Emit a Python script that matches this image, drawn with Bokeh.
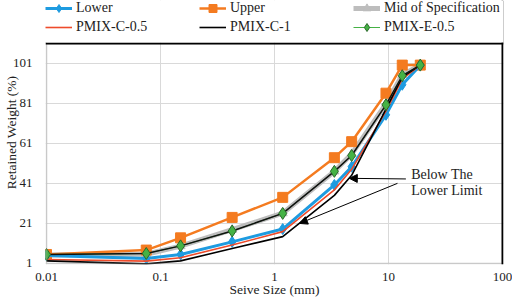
from bokeh.plotting import figure
from bokeh.models import (FixedTicker, CustomJSTickFormatter, Range1d, Legend, LegendItem,
                          Label, Arrow, NormalHead, BoxAnnotation, Span)
from bokeh.embed import file_html
from bokeh.resources import INLINE

# ---- data ----
sizes = [0.01, 0.075, 0.15, 0.425, 1.18, 3.35, 4.75, 9.5, 13.2, 19]
lower = [5.0, 3.5, 5.5, 11.8, 18.2, 40.2, 49.3, 75.2, 90.2, 100]
upper = [5.5, 7.7, 13.8, 24.0, 34.0, 53.8, 61.8, 86.0, 100, 100]
mid_spec = [5.3, 5.6, 9.7, 17.9, 26.1, 47.0, 55.6, 80.6, 95.1, 100]
pmix_c05 = [3.0, 2.2, 3.9, 10.2, 16.9, 37.7, 48.0, 77.0, 93.0, 100]
pmix_c1 = [2.3, 0.8, 2.3, 8.5, 14.4, 35.0, 45.0, 78.0, 94.0, 100]
pmix_e05 = [5.5, 6.0, 9.8, 17.2, 26.0, 47.0, 54.9, 80.2, 94.7, 100]

y_ticks = [1, 21, 41, 61, 81, 101]
x_ticks = [0.01, 0.1, 1, 10, 100]

X_MIN, X_MAX = 0.01, 100
Y_MIN = 1
Y_AREA_TOP = 110.75    # top of the plotting area (value)
Y_CANVAS_TOP = 132.25  # frame extends to the top of the canvas to host the legend

FONT = "Liberation Serif"
TXT = "#222222"

p = figure(width=512, height=301, x_axis_type="log", output_backend="svg",
           toolbar_location=None, x_range=Range1d(0.0098, 102),
           y_range=Range1d(0.5, Y_CANVAS_TOP),
           min_border_left=45, min_border_right=9, min_border_top=0, min_border_bottom=37)
p.title.visible = False
p.background_fill_color = "white"
p.border_fill_color = "white"
p.outline_line_color = None

# grid
p.xgrid.ticker = FixedTicker(ticks=x_ticks)
p.ygrid.ticker = FixedTicker(ticks=y_ticks)
for g in (p.xgrid, p.ygrid):
    g.grid_line_color = "#D9D9D9"
    g.grid_line_width = 1
p.xgrid.minor_grid_line_color = None

# axes
p.xaxis.ticker = FixedTicker(ticks=x_ticks)
p.xaxis.formatter = CustomJSTickFormatter(code="return tick.toString();")
p.yaxis.ticker = FixedTicker(ticks=y_ticks)
for ax in (p.xaxis, p.yaxis):
    ax.axis_line_color = None
    ax.major_tick_line_color = None
    ax.minor_tick_line_color = None
    ax.major_tick_out = 0
    ax.major_tick_in = 0
    ax.minor_tick_out = 0
    ax.minor_tick_in = 0
    ax.major_label_text_font = FONT
    ax.major_label_text_font_size = "13px"
    ax.major_label_text_color = TXT
    ax.axis_label_text_font = FONT
    ax.axis_label_text_font_size = "13.5px"
    ax.axis_label_text_font_style = "normal"
    ax.axis_label_text_color = TXT
p.xaxis.axis_label = "Seive Size (mm)"
p.yaxis.axis_label = "Retained Weight (%)"
p.xaxis.major_label_standoff = 8
p.xaxis.axis_label_standoff = -2
p.yaxis.major_label_standoff = 13
p.yaxis.axis_label_standoff = -9

BLUE = "#1E9BE0"
ORANGE = "#F47B20"
GRAY = "#BDBDBD"
RED = "#EE4B2B"
GREEN = "#45B245"

# series
r_mid_l = p.line(sizes, mid_spec, line_color=GRAY, line_width=5)
r_mid_m = p.scatter(sizes, mid_spec, marker="triangle", size=9, fill_color=GRAY, line_color=GRAY)
r_up_l = p.line(sizes, upper, line_color=ORANGE, line_width=2.5)
r_up_m = p.scatter(sizes, upper, marker="square", size=10, fill_color=ORANGE, line_color=ORANGE)
r_lo_l = p.line(sizes, lower, line_color=BLUE, line_width=3)
r_lo_m = p.scatter(sizes, lower, marker="diamond", size=11, fill_color=BLUE, line_color=BLUE)
r_c05 = p.line(sizes, pmix_c05, line_color=RED, line_width=1.6)
r_c1 = p.line(sizes, pmix_c1, line_color="black", line_width=1.6)
r_e_l = p.line(sizes, pmix_e05, line_color=GREEN, line_width=1)
p.line(sizes, pmix_e05, line_color="#111111", line_width=1.5)
r_e_m = p.scatter(sizes, pmix_e05, marker="diamond", size=12, fill_color=GREEN,
                  line_color="#2A6A2A", line_width=1)

# plot-area border: gray left/bottom, black top/right
p.add_layout(BoxAnnotation(left=X_MIN, right=X_MAX, bottom=Y_MIN, top=Y_AREA_TOP,
                           fill_alpha=0, line_color="#A6A6A6", line_width=2))
p.add_layout(Span(location=Y_AREA_TOP, dimension="width", line_color="black", line_width=2))
p.add_layout(Span(location=X_MAX, dimension="height", line_color="black", line_width=2))
# white cover for the legend strip above the plotting area
p.add_layout(BoxAnnotation(bottom=Y_AREA_TOP + 0.5, fill_color="white", fill_alpha=1,
                           line_color=None))


def make_legend(items, loc):
    lg = Legend(items=items, orientation="horizontal", location=loc)
    lg.background_fill_alpha = 0
    lg.border_line_color = None
    lg.padding = 0
    lg.margin = 0
    lg.spacing = 3
    lg.glyph_width = 27
    lg.glyph_height = 20
    lg.label_height = 20
    lg.label_width = 120
    lg.label_standoff = 4
    lg.label_text_font = FONT
    lg.label_text_font_size = "14px"
    lg.label_text_color = TXT
    return lg


leg1 = make_legend([
    LegendItem(label="Lower", renderers=[r_lo_l, r_lo_m]),
    LegendItem(label="Upper", renderers=[r_up_l, r_up_m]),
    LegendItem(label="Mid of Specification", renderers=[r_mid_l, r_mid_m]),
], (0, 246))
leg2 = make_legend([
    LegendItem(label="PMIX-C-0.5", renderers=[r_c05]),
    LegendItem(label="PMIX-C-1", renderers=[r_c1]),
    LegendItem(label="PMIX-E-0.5", renderers=[r_e_l, r_e_m]),
], (0, 227))
p.add_layout(leg1, "center")
p.add_layout(leg2, "center")

# annotations
for txt, yv in (("Below The", 45.4), ("Lower Limit", 37.5)):
    p.add_layout(Label(x=15.8, y=yv, text=txt, text_font=FONT, text_font_size="14px",
                       text_color=TXT, text_baseline="middle", text_align="left"))
p.add_layout(Arrow(x_start=14.2, y_start=43.2, x_end=4.53, y_end=43.5,
                   line_color="black", line_width=1,
                   end=NormalHead(size=8, fill_color="black", line_color="black")))
p.add_layout(Arrow(x_start=11.98, y_start=41.0, x_end=1.654, y_end=21.0,
                   line_color="black", line_width=1,
                   end=NormalHead(size=8, fill_color="black", line_color="black")))

open("out.html", "w").write(file_html(p, INLINE))
